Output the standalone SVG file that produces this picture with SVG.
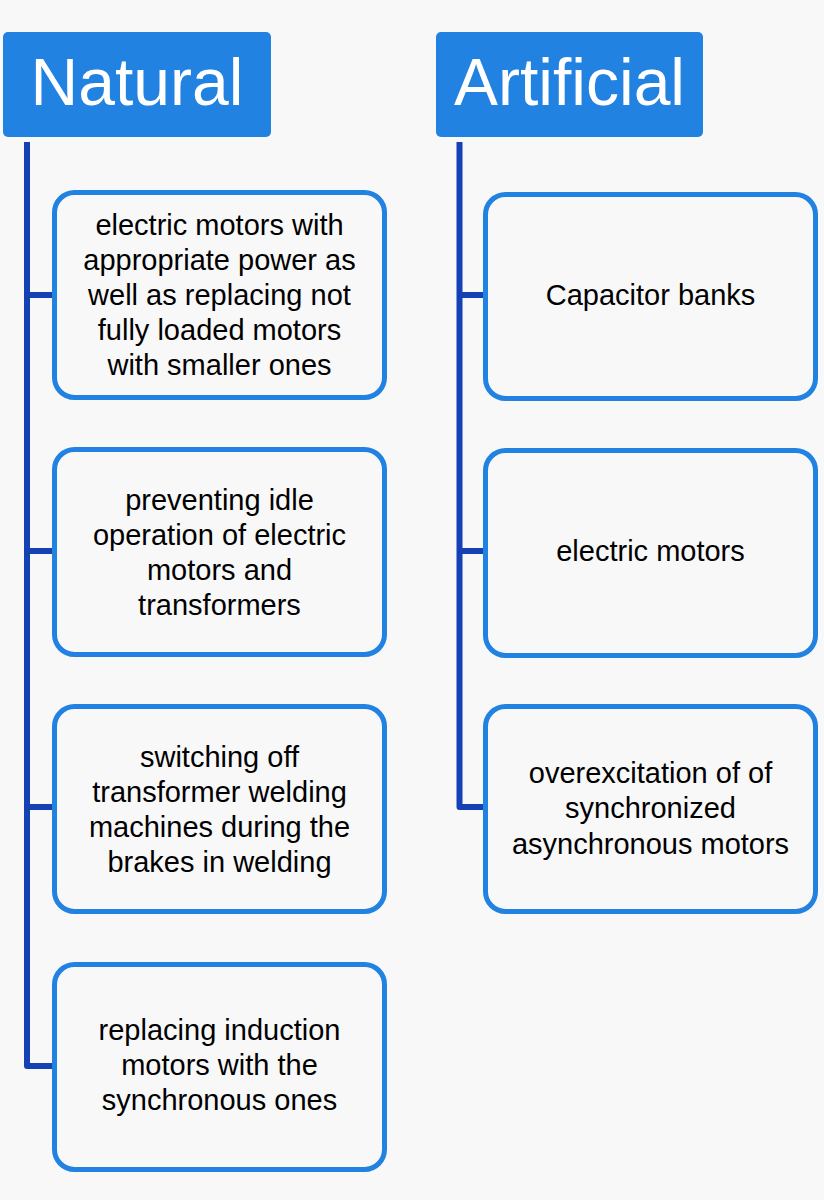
<svg xmlns="http://www.w3.org/2000/svg" width="824" height="1200" viewBox="0 0 824 1200">
<style>
.bg{fill:#F8F8F9}
.head{fill:#2182E2}
.htxt{font-family:"Liberation Sans",Arial,sans-serif;font-size:66px;fill:#FFFFFF;text-anchor:middle}
.box{fill:#F8F8F9;stroke:#2182E2;stroke-width:5}
.txt{font-family:"Liberation Sans",Arial,sans-serif;font-size:29px;fill:#000000;text-anchor:middle}
.con{fill:none;stroke:#1441B4;stroke-width:6;stroke-linejoin:round}
</style>
<rect class="bg" x="0" y="0" width="824" height="1200"/>
<g id="connectors">
<path class="con" d="M27,142 V1066 H55"/>
<path class="con" d="M27,295 H55"/>
<path class="con" d="M27,551 H55"/>
<path class="con" d="M27,807 H55"/>
<path class="con" d="M459.5,142 V807 H486"/>
<path class="con" d="M459.5,295 H486"/>
<path class="con" d="M459.5,551 H486"/>
</g>
<g id="natural">
<rect class="head" x="3" y="32" width="268" height="105" rx="5"/>
<text class="htxt" x="137" y="105">Natural</text>
</g>
<g id="artificial">
<rect class="head" x="436" y="32" width="267" height="105" rx="5"/>
<text class="htxt" x="569.5" y="105">Artificial</text>
</g>
<g id="n1">
<rect class="box" x="54.5" y="192.5" width="330" height="205" rx="20"/>
<text class="txt" x="219.5" y="235">electric motors with</text>
<text class="txt" x="219.5" y="270">appropriate power as</text>
<text class="txt" x="219.5" y="305">well as replacing not</text>
<text class="txt" x="219.5" y="340">fully loaded motors</text>
<text class="txt" x="219.5" y="375">with smaller ones</text>
</g>
<g id="n2">
<rect class="box" x="54.5" y="449.5" width="330" height="205" rx="20"/>
<text class="txt" x="219.5" y="510">preventing idle</text>
<text class="txt" x="219.5" y="545">operation of electric</text>
<text class="txt" x="219.5" y="580">motors and</text>
<text class="txt" x="219.5" y="615">transformers</text>
</g>
<g id="n3">
<rect class="box" x="54.5" y="706.5" width="330" height="205" rx="20"/>
<text class="txt" x="219.5" y="767">switching off</text>
<text class="txt" x="219.5" y="802">transformer welding</text>
<text class="txt" x="219.5" y="837">machines during the</text>
<text class="txt" x="219.5" y="872">brakes in welding</text>
</g>
<g id="n4">
<rect class="box" x="54.5" y="964.5" width="330" height="205" rx="20"/>
<text class="txt" x="219.5" y="1040">replacing induction</text>
<text class="txt" x="219.5" y="1075">motors with the</text>
<text class="txt" x="219.5" y="1110">synchronous ones</text>
</g>
<g id="a1">
<rect class="box" x="485.5" y="194.5" width="330" height="204" rx="20"/>
<text class="txt" x="650.5" y="305">Capacitor banks</text>
</g>
<g id="a2">
<rect class="box" x="485.5" y="450.5" width="330" height="205" rx="20"/>
<text class="txt" x="650.5" y="561">electric motors</text>
</g>
<g id="a3">
<rect class="box" x="485.5" y="706.5" width="330" height="205" rx="20"/>
<text class="txt" x="650.5" y="783">overexcitation of of</text>
<text class="txt" x="650.5" y="818">synchronized</text>
<text class="txt" x="650.5" y="854">asynchronous motors</text>
</g>
</svg>
